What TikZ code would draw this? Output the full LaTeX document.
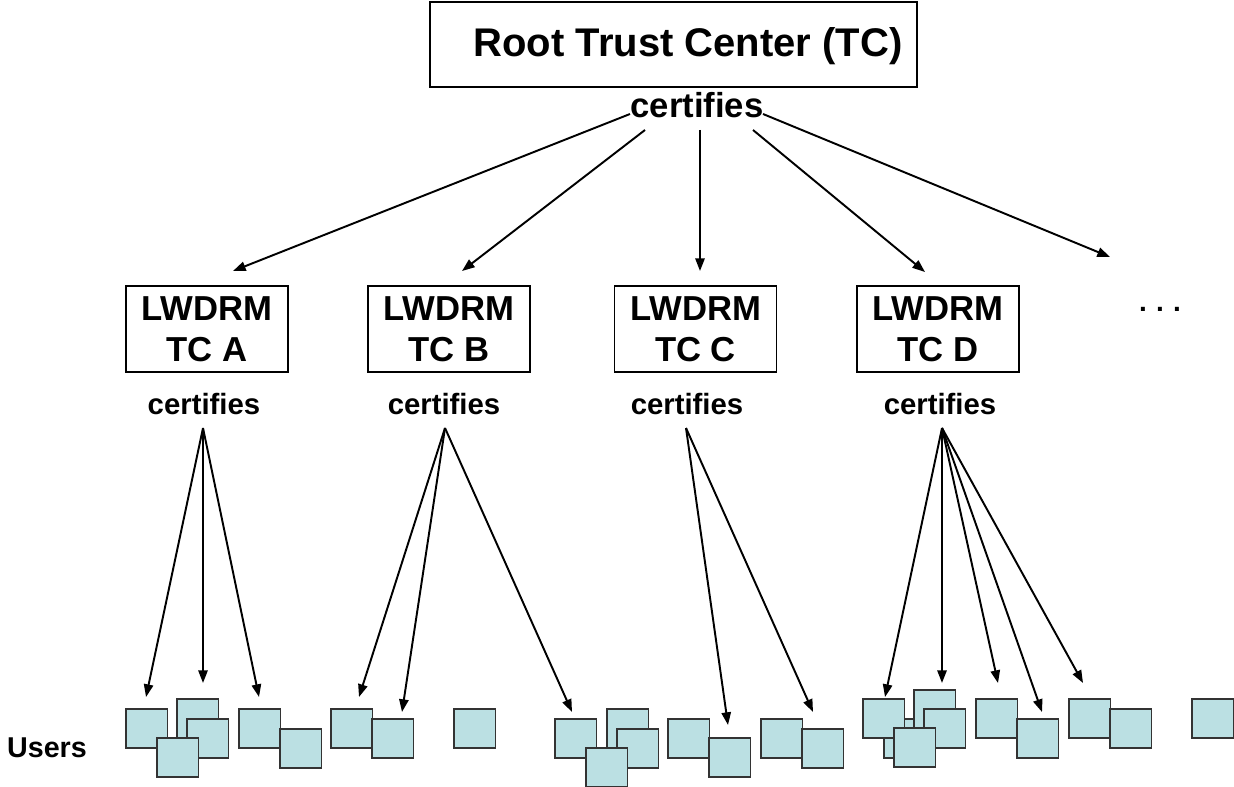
\documentclass[tikz,border=0pt]{standalone}
\usepackage{fontspec}
\setmainfont{Liberation Sans}
\usetikzlibrary{arrows.meta}
\definecolor{userfill}{HTML}{BBE0E3}
\definecolor{userline}{HTML}{333333}

\begin{document}
\begin{tikzpicture}[x=0.75pt,y=-0.75pt,
  every node/.style={inner sep=0pt, outer sep=0pt},
  tcbox/.style={draw, line width=1pt, minimum width=121.5pt, minimum height=64.5pt,
    align=center, font=\bfseries\fontsize{26}{30.75}\selectfont},
  certlabel/.style={anchor=base, font=\bfseries\fontsize{22}{26}\selectfont},
  link/.style={line width=1.45pt, -{Triangle[length=9.5pt,width=7pt]}},
  user/.style={draw=userline, fill=userfill, line width=1.2pt,
    minimum width=31.1pt, minimum height=29.25pt, anchor=north west},
]
\useasboundingbox (0,0) rectangle (1234,787);

% root trust center
\node[draw, line width=1pt, minimum width=365.25pt, minimum height=63.75pt] (root) at (673.5,44.5) {};
\node[anchor=base, font=\bfseries\fontsize{30}{35}\selectfont] (roottxt) at (688,57) {Root Trust Center (TC)};
\node[anchor=base, font=\bfseries\fontsize{26}{30}\selectfont] (certT) at (697,118) {certifies};

% second-level trust centers
\node[tcbox] (tca) at (207,329) {LWDRM\\TC A};
\node[tcbox] (tcb) at (449,329) {LWDRM\\TC B};
\node[tcbox] (tcc) at (695.5,329) {LWDRM\\TC C};
\node[tcbox] (tcd) at (938,329) {LWDRM\\TC D};
\node[anchor=base, font=\bfseries\fontsize{21}{25}\selectfont] (more) at (1160,312) {.\,\,.\,\,.};

\node[certlabel] (certA) at (204,415) {certifies};
\node[certlabel] (certB) at (444,415) {certifies};
\node[certlabel] (certC) at (687,415) {certifies};
\node[certlabel] (certD) at (940,415) {certifies};

\node[anchor=base, font=\bfseries\fontsize{21.5}{25}\selectfont] (users) at (47,757) {Users};

% arrows from the root
\coordinate (r1) at (630,114);
\coordinate (r2) at (645,130);
\coordinate (r3) at (700,130);
\coordinate (r4) at (753,130);
\coordinate (r5) at (763,114);
\coordinate (ta) at (233,271);
\coordinate (tb) at (462,271);
\coordinate (tc) at (700,271);
\coordinate (td) at (925,272);
\coordinate (te) at (1110,257);
\draw[link] (r1) -- (ta);
\draw[link] (r2) -- (tb);
\draw[link] (r3) -- (tc);
\draw[link] (r4) -- (td);
\draw[link] (r5) -- (te);

% users
\node[user] (u1) at (126,709) {};
\node[user] (u2) at (177,699) {};
\node[user] (u3) at (187,719) {};
\node[user] (u4) at (157,738) {};
\node[user] (u5) at (239,709) {};
\node[user] (u6) at (280,729) {};
\node[user] (u7) at (331,709) {};
\node[user] (u8) at (372,719) {};
\node[user] (u9) at (454,709) {};
\node[user] (u10) at (555,719) {};
\node[user] (u11) at (607,709) {};
\node[user] (u12) at (617,729) {};
\node[user] (u13) at (586,748) {};
\node[user] (u14) at (668,719) {};
\node[user] (u15) at (709,738) {};
\node[user] (u16) at (761,719) {};
\node[user] (u17) at (802,729) {};
\node[user] (u20) at (884,719) {};
\node[user] (u19) at (863,699) {};
\node[user] (u21) at (914,690) {};
\node[user] (u22) at (924,709) {};
\node[user] (u23) at (894,728) {};
\node[user] (u24) at (976,699) {};
\node[user] (u25) at (1017,719) {};
\node[user] (u26) at (1069,699) {};
\node[user] (u27) at (1110,709) {};
\node[user] (u28) at (1192,699) {};

% arrows from the second-level trust centers
\coordinate (oA) at (203,428);
\coordinate (oB) at (445,428);
\coordinate (oC) at (686,428);
\coordinate (oD) at (942,428);
\coordinate (a1) at (146,697);
\coordinate (a2) at (203,683);
\coordinate (a3) at (259,697);
\coordinate (b1) at (359,697);
\coordinate (b2) at (402,712);
\coordinate (b3) at (572,712);
\coordinate (c1) at (728,725);
\coordinate (c2) at (813,712);
\coordinate (d1) at (885,697);
\coordinate (d2) at (942,683);
\coordinate (d3) at (998,683);
\coordinate (d4) at (1042,712);
\coordinate (d5) at (1083,683);
\foreach \t in {a1,a2,a3} \draw[link] (oA) -- (\t);
\foreach \t in {b1,b2,b3} \draw[link] (oB) -- (\t);
\foreach \t in {c1,c2} \draw[link] (oC) -- (\t);
\foreach \t in {d1,d2,d3,d4,d5} \draw[link] (oD) -- (\t);
\end{tikzpicture}
\end{document}
